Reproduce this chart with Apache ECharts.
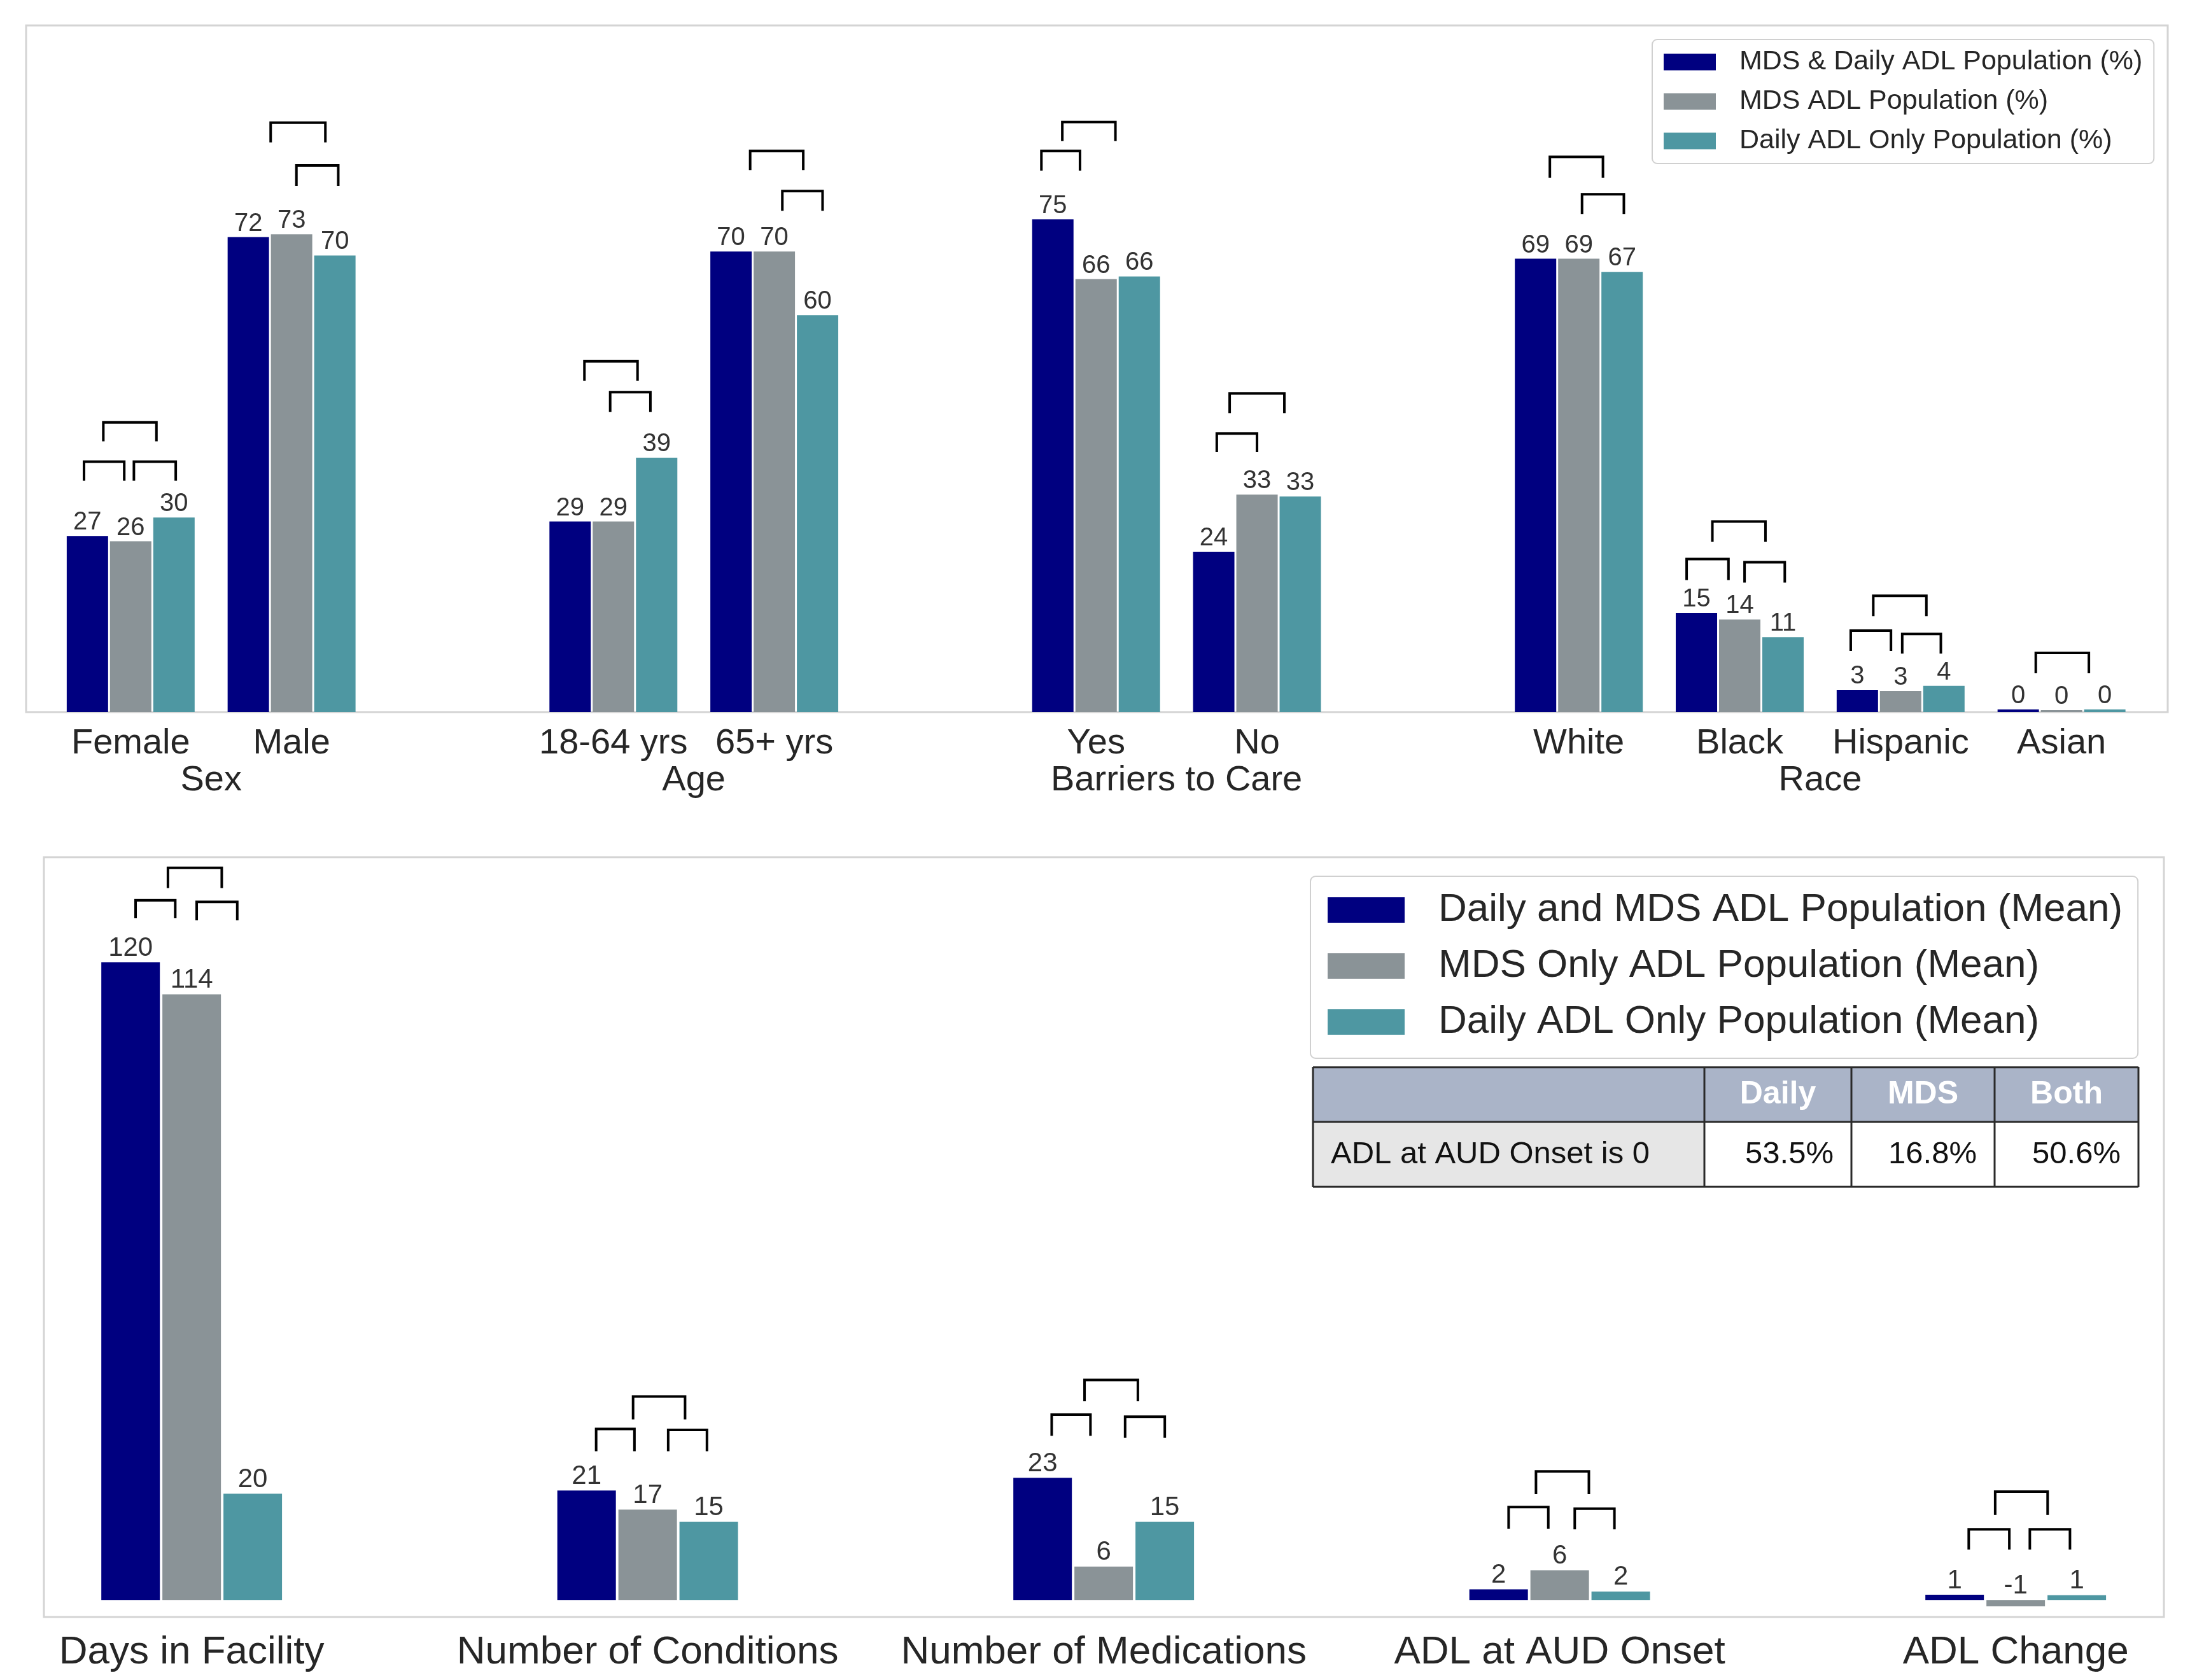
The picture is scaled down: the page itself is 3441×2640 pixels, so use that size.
<!DOCTYPE html>
<html>
<head>
<meta charset="utf-8">
<title>ADL populations</title>
<script src="https://cdn.jsdelivr.net/npm/echarts@6.0.0/dist/echarts.min.js"></script>
<style>
  html, body { margin: 0; padding: 0; background: #fff; }
  #chart { width: 3441px; height: 2640px; }
</style>
</head>
<body>
<div id="chart"></div>
<script>
// top panel, percentages ('' = empty slot between groups)
const topCategories = ['Female', 'Male', '', '18-64 yrs', '65+ yrs', '', 'Yes', 'No', '', 'White', 'Black', 'Hispanic', 'Asian']
const topBoth  = [26.8, 72.3, null, 29, 70.1, null, 75, 24.4, null, 69, 15.1, 3.4, 0.4]
const topMds   = [26, 72.7, null, 29, 70.1, null, 65.9, 33.1, null, 69, 14.1, 3.2, 0.3]
const topDaily = [29.6, 69.5, null, 38.7, 60.4, null, 66.3, 32.8, null, 67, 11.4, 4, 0.4]
const topGroupNames = ['Sex', 'Age', 'Barriers to Care', 'Race']
const topGroupSpans = [[0, 1], [3, 4], [6, 7], [9, 12]]
const topSeriesNames = ['MDS & Daily ADL Population (%)', 'MDS ADL Population (%)', 'Daily ADL Only Population (%)']

// significance brackets: [slot, from, to, top, leg end]
const topBrackets = [
  [0, -0.17, 0.16, 44.1, 41.2], [0, -0.29, -0.04, 38.1, 35.2], [0, 0.02, 0.28, 38.1, 35.2],
  [1, -0.13, 0.21, 89.7, 86.7], [1, 0.03, 0.29, 83.2, 80.1],
  [3, -0.18, 0.15, 53.4, 50.4], [3, -0.02, 0.23, 48.7, 45.7],
  [4, -0.15, 0.18, 85.4, 82.5], [4, 0.05, 0.30, 79.3, 76.3],
  [6, -0.21, 0.12, 89.8, 86.9], [6, -0.34, -0.10, 85.4, 82.4],
  [7, -0.17, 0.17, 48.5, 45.5], [7, -0.25, 0.0, 42.4, 39.6],
  [9, -0.18, 0.15, 84.5, 81.3], [9, 0.02, 0.28, 78.8, 75.8],
  [10, -0.17, 0.16, 29.0, 25.9], [10, -0.33, -0.07, 23.3, 20.1], [10, 0.03, 0.28, 22.8, 19.7],
  [11, -0.17, 0.16, 17.7, 14.6], [11, -0.31, -0.06, 12.4, 9.3], [11, 0.01, 0.25, 11.9, 8.9],
  [12, -0.16, 0.17, 9.0, 5.9]
]

// bottom panel, means
const bottomCategories = ['Days in Facility', 'Number of Conditions', 'Number of Medications', 'ADL at AUD Onset', 'ADL Change']
const bottomBoth  = [120, 20.6, 23, 2, 1]
const bottomMds   = [114, 17, 6.3, 5.6, -1.2]
const bottomDaily = [20, 14.7, 14.7, 1.6, 0.9]
const bottomSeriesNames = ['Daily and MDS ADL Population (Mean)', 'MDS Only ADL Population (Mean)', 'Daily ADL Only Population (Mean)']
const bottomBrackets = [
  [0, -0.052, 0.066, 137.8, 134.0], [0, -0.123, -0.036, 131.7, 128.3], [0, 0.011, 0.100, 131.4, 127.9],
  [1, -0.032, 0.082, 38.3, 34.0], [1, -0.113, -0.029, 32.2, 28.0], [1, 0.045, 0.130, 32.0, 28.0],
  [2, -0.042, 0.075, 41.4, 37.4], [2, -0.114, -0.029, 34.9, 30.9], [2, 0.047, 0.134, 34.5, 30.5],
  [3, -0.052, 0.064, 24.2, 19.9], [3, -0.112, -0.025, 17.5, 13.4], [3, 0.033, 0.120, 17.2, 13.3],
  [4, -0.045, 0.070, 20.4, 16.0], [4, -0.103, -0.014, 13.3, 9.5], [4, 0.031, 0.119, 13.3, 9.5]
]

// table
const tableHeader = ['', 'Daily', 'MDS', 'Both']
const tableRow = ['ADL at AUD Onset is 0', '53.5%', '16.8%', '50.6%']

const colors = ['#000080', '#8a9397', '#4e97a2']
const FONT = '"Liberation Sans", Arial, sans-serif'
const TEXT = '#262626'

const chart = echarts.init(document.getElementById('chart'))

const toPairs = (vals) => vals.map((v, i) => v == null ? null : [i, v]).filter(Boolean)

const barSeries = (names, lists, axis, width, gap, labelSize) => names.map((name, k) => ({
  name,
  type: 'bar',
  xAxisIndex: axis,
  yAxisIndex: axis,
  data: toPairs(lists[k]),
  barWidth: width,
  barGap: gap,
  itemStyle: { color: colors[k] },
  label: {
    show: true,
    position: 'top',
    distance: 1,
    fontFamily: FONT,
    fontSize: labelSize,
    color: '#333',
    formatter: (p) => Math.round(p.value[1])
  }
}))

function bracketItem(params, api) {
  const g = api.value(0)
  const a = api.coord([g + api.value(1), api.value(4)])
  const b = api.coord([g + api.value(1), api.value(3)])
  const c = api.coord([g + api.value(2), api.value(3)])
  const d = api.coord([g + api.value(2), api.value(4)])
  return {
    type: 'polyline',
    shape: { points: [a, b, c, d] },
    style: { stroke: '#000', lineWidth: 4, fill: null, lineJoin: 'miter' }
  }
}

const valueAxisX = (min, max, cats, gridIndex, fontSize, margin) => ({
  type: 'value',
  gridIndex,
  min, max,
  axisLine: { show: false },
  axisTick: { show: false },
  splitLine: { show: false },
  axisLabel: {
    customValues: cats.map((c, i) => c ? i : null).filter((v) => v != null),
    formatter: (v) => cats[Math.round(v)],
    fontFamily: FONT,
    fontSize,
    color: TEXT,
    margin
  }
})

const hiddenY = (min, max, gridIndex) => ({
  type: 'value', gridIndex, min, max, show: false,
  splitLine: { show: false }
})

// table graphic
const colX = [2063, 2678, 2909, 3134, 3360]
const rowY = [1677, 1763, 1865]
const tableGraphics = []
tableGraphics.push({ type: 'rect', shape: { x: colX[0], y: rowY[0], width: colX[4] - colX[0], height: rowY[1] - rowY[0] }, style: { fill: '#aab4c8' } })
tableGraphics.push({ type: 'rect', shape: { x: colX[0], y: rowY[1], width: colX[1] - colX[0], height: rowY[2] - rowY[1] }, style: { fill: '#e6e6e6' } })
tableHeader.forEach((t, i) => {
  if (!t) return
  tableGraphics.push({ type: 'text', x: (colX[i] + colX[i + 1]) / 2, y: (rowY[0] + rowY[1]) / 2,
    style: { text: t, fill: '#fff', fontFamily: FONT, fontSize: 50, fontWeight: 'bold', align: 'center', verticalAlign: 'middle' } })
})
tableRow.forEach((t, i) => {
  const left = i === 0
  tableGraphics.push({ type: 'text', x: left ? colX[0] + 28 : colX[i + 1] - 28, y: (rowY[1] + rowY[2]) / 2,
    style: { text: t, fill: '#111', fontFamily: FONT, fontSize: 49, align: left ? 'left' : 'right', verticalAlign: 'middle' } })
})
rowY.forEach((y) => tableGraphics.push({ type: 'line', shape: { x1: colX[0], y1: y, x2: colX[4], y2: y }, style: { stroke: '#2a2a2a', lineWidth: 3 } }))
colX.forEach((x) => tableGraphics.push({ type: 'line', shape: { x1: x, y1: rowY[0], x2: x, y2: rowY[2] }, style: { stroke: '#2a2a2a', lineWidth: 3 } }))

chart.setOption({
  backgroundColor: '#fff',
  animation: false,
  grid: [
    { left: 41, top: 40, width: 3365, height: 1079, show: true, borderColor: '#d4d4d4', borderWidth: 3 },
    { left: 69, top: 1347, width: 3331, height: 1194, show: true, borderColor: '#d4d4d4', borderWidth: 3 }
  ],
  xAxis: [
    valueAxisX(-0.65, 12.66, topCategories, 0, 56, 22),
    valueAxisX(-0.324, 4.325, bottomCategories, 1, 62, 25)
  ],
  yAxis: [hiddenY(0, 104.5, 0), hiddenY(-3.2, 139.8, 1)],
  legend: [
    {
      data: topSeriesNames,
      orient: 'vertical',
      left: 2596, top: 62,
      icon: 'rect',
      itemWidth: 82, itemHeight: 26, itemGap: 19,
      padding: [14, 18, 14, 18],
      borderColor: '#d0d0d0', borderWidth: 2, borderRadius: 8,
      backgroundColor: '#fff',
      selectedMode: false,
      textStyle: { fontFamily: FONT, fontSize: 43, color: TEXT, padding: [0, 0, 0, 32] }
    },
    {
      data: bottomSeriesNames,
      orient: 'vertical',
      left: 2059, top: 1377,
      icon: 'rect',
      itemWidth: 121, itemHeight: 40, itemGap: 26,
      padding: [22, 24, 26, 27],
      borderColor: '#d0d0d0', borderWidth: 2, borderRadius: 8,
      backgroundColor: '#fff',
      selectedMode: false,
      textStyle: { fontFamily: FONT, fontSize: 62, color: TEXT, padding: [0, 0, 0, 48] }
    }
  ],
  graphic: tableGraphics,
  series: [
    ...barSeries(topSeriesNames, [topBoth, topMds, topDaily], 0, 65, '4.6%', 40),
    ...barSeries(bottomSeriesNames, [bottomBoth, bottomMds, bottomDaily], 1, 92, '4.3%', 42),
    {
      type: 'custom', xAxisIndex: 0, yAxisIndex: 0, clip: false,
      data: topBrackets, encode: { x: 0, y: 3 },
      renderItem: bracketItem
    },
    {
      type: 'custom', xAxisIndex: 1, yAxisIndex: 1, clip: false,
      data: bottomBrackets, encode: { x: 0, y: 3 },
      renderItem: bracketItem
    },
    {
      // group titles under the top axis
      type: 'custom', xAxisIndex: 0, yAxisIndex: 0, clip: false,
      data: topGroupSpans.map((s) => [(s[0] + s[1]) / 2, 0]),
      encode: { x: 0, y: 1 },
      renderItem: (params, api) => {
        const p = api.coord([api.value(0), 0])
        return {
          type: 'text', x: p[0], y: p[1] + 80,
          style: { text: topGroupNames[params.dataIndex], fill: TEXT, fontFamily: FONT, fontSize: 56, align: 'center', verticalAlign: 'top' }
        }
      }
    }
  ]
})
</script>
</body>
</html>
